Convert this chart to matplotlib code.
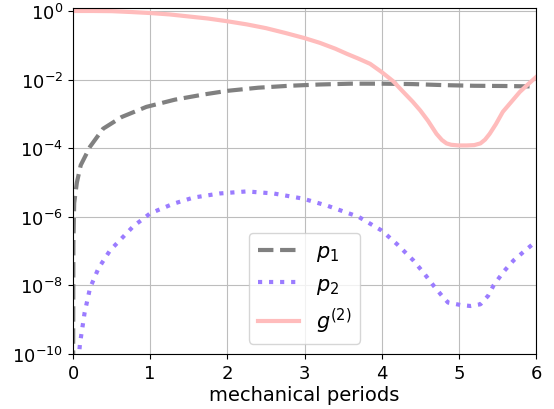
import numpy as np
import matplotlib
matplotlib.use("Agg")
import matplotlib.pyplot as plt

# time in mechanical periods
t_p1 = [0.0, 0.005, 0.015, 0.05, 0.1, 0.22, 0.39, 0.63, 0.95, 1.32, 1.7, 2.0, 2.4,
        2.8, 3.2, 3.6, 4.0, 4.4, 4.8, 5.2, 5.6, 6.0]
p1 = [1e-12, 1.6e-7, 2.5e-6, 1.0e-5, 3.2e-5, 1.1e-4, 3.7e-4, 8.1e-4, 1.6e-3, 2.6e-3,
      3.7e-3, 4.7e-3, 5.8e-3, 6.6e-3, 7.2e-3, 7.6e-3, 7.6e-3, 7.4e-3, 6.9e-3, 6.6e-3,
      6.5e-3, 6.3e-3]

t_p2 = [0.06, 0.09, 0.15, 0.22, 0.33, 0.48, 0.78, 1.0, 1.3, 1.56, 1.9, 2.25, 2.6, 2.98,
        3.3, 3.7, 4.0, 4.2, 4.41, 4.55, 4.67, 4.78, 4.86, 5.02, 5.15, 5.28, 5.38, 5.45,
        5.58, 5.71, 5.85, 6.0]
p2_exp = [-10.5, -9.7, -8.8, -8.08, -7.5, -6.98, -6.28, -5.9, -5.62, -5.44, -5.32, -5.26,
          -5.32, -5.47, -5.68, -6.0, -6.4, -6.8, -7.27, -7.65, -8.0, -8.3, -8.5, -8.57,
          -8.6, -8.55, -8.3, -8.0, -7.6, -7.27, -7.0, -6.72]

t_g2 = [0.0, 0.25, 0.5, 0.75, 1.0, 1.25, 1.5, 1.75, 2.0, 2.25, 2.5, 2.75, 3.0, 3.2,
        3.4, 3.55, 3.7, 3.85, 4.0, 4.15, 4.28, 4.4, 4.5, 4.6, 4.71, 4.78, 4.84, 4.9,
        5.0, 5.1, 5.2, 5.28, 5.34, 5.4, 5.48, 5.57, 5.68, 5.79, 5.9, 6.0]
g2_exp = [0.0, 0.0, -0.005, -0.03, -0.06, -0.1, -0.16, -0.22, -0.3, -0.39, -0.5, -0.64,
          -0.79, -0.93, -1.1, -1.25, -1.39, -1.54, -1.78, -2.05, -2.36, -2.64, -2.9, -3.2,
          -3.58, -3.76, -3.86, -3.9, -3.92, -3.92, -3.91, -3.86, -3.75, -3.58, -3.3, -2.94,
          -2.65, -2.36, -2.13, -1.93]

fig = plt.figure(figsize=(5.54, 4.10), dpi=100)
ax = fig.add_axes([0.1318, 0.1341, 0.8357, 0.8439])

ax.plot(t_p1, p1, '--', color='gray', lw=3, label='$p_1$')
ax.plot(t_p2, 10.0 ** np.array(p2_exp), ':', color='#9b7cff', lw=3, label='$p_2$')
ax.plot(t_g2, 10.0 ** np.array(g2_exp), '-', color='#ffbcbc', lw=3, label='$g^{(2)}$')

ax.set_yscale('log')
ax.set_xlim(0, 6)
ax.set_ylim(1e-10, 1.22)
ax.set_yticks([1e0, 1e-2, 1e-4, 1e-6, 1e-8, 1e-10])
ax.yaxis.set_minor_locator(matplotlib.ticker.NullLocator())
ax.tick_params(labelsize=13)
ax.set_xlabel('mechanical periods', fontsize=14, labelpad=2)
ax.grid(True, color='#bdbdbd')
ax.legend(loc='lower center', fontsize=15)

fig.savefig('out.png', dpi=100)
